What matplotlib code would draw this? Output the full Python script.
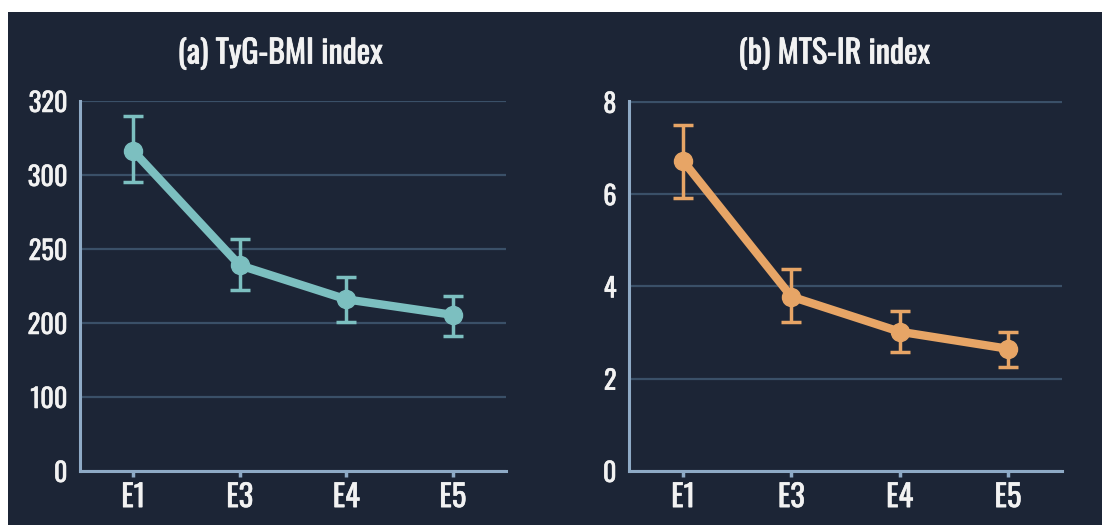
import numpy as np
import matplotlib
matplotlib.use("Agg")
import matplotlib.pyplot as plt
import matplotlib.patheffects as pe
from matplotlib.patches import Rectangle

plt.rcParams['font.family'] = ['Oswald', 'DejaVu Sans']

categories = ["E1", "E3", "E4", "E5"]

tyg_mean = [306.5, 239, 216, 205.5]
tyg_low = [295, 222, 200.5, 182]
tyg_high = [316, 257, 231, 218]
tyg_ticks = [0, 100, 200, 250, 300, 320]

mts_mean = [6.72, 3.78, 3.02, 2.65]
mts_low = [5.91, 3.24, 2.57, 2.26]
mts_high = [7.5, 4.37, 3.46, 3.02]
mts_ticks = [0, 2, 4, 6, 8]

BG = "#1c2536"
GRID = "#3a5068"
SPINE = "#8eaac6"
TEXT = "#f2f2f2"
TEAL = "#7cbfc0"
ORANGE = "#e7a566"

W, H = 1102, 525
fig = plt.figure(figsize=(W / 100, H / 100), dpi=100, facecolor="white")
fig.patches.append(Rectangle((8 / W, 0), 1 - 8 / W, (H - 12) / H,
                             transform=fig.transFigure, facecolor=BG,
                             edgecolor="none", zorder=-10))

bold = [pe.withStroke(linewidth=0.4, foreground=TEXT)]
bold_title = [pe.withStroke(linewidth=0.6, foreground=TEXT)]

tick_pos = np.arange(len(tyg_ticks))


def fwd(v):
    return np.interp(v, tyg_ticks, tick_pos)


def inv(v):
    return np.interp(v, tick_pos, tyg_ticks)


def make_ax(x0, x1, title, tx):
    ax = fig.add_axes([x0 / W, (H - 471) / H, (x1 - x0) / W, (471 - 101) / H])
    ax.set_facecolor("none")
    for s in ["top", "right"]:
        ax.spines[s].set_visible(False)
    for s in ["left", "bottom"]:
        ax.spines[s].set_color(SPINE)
        ax.spines[s].set_linewidth(2.2)
    ax.tick_params(axis="y", length=0, colors=TEXT, labelsize=19, pad=9)
    ax.tick_params(axis="x", length=4, width=2.5, color=SPINE, colors=TEXT,
                   labelsize=22, pad=4)
    ax.grid(axis="y", color=GRID, linewidth=1.6)
    ax.set_axisbelow(True)
    fig.text(tx / W, (H - 54) / H, title, color=TEXT, fontsize=23,
             ha="center", va="center", path_effects=bold_title)
    return ax


def draw(ax, mean, low, high, color):
    x = np.arange(len(categories))
    m = np.array(mean)
    err = [m - np.array(low), np.array(high) - m]
    ax.errorbar(x, m, yerr=err, fmt="none", ecolor=color, elinewidth=2.5,
                capsize=7, capthick=2.5, zorder=3)
    ax.plot(x, m, color=color, linewidth=6, marker="o", markersize=13,
            solid_capstyle="round", zorder=4)
    ax.set_xticks(x)
    ax.set_xticklabels(categories)
    ax.set_xlim(-0.5, len(categories) - 0.5)


ax1 = make_ax(80, 506, "(a) TyG-BMI index", 280)
ax1.set_yscale("function", functions=(fwd, inv))
draw(ax1, tyg_mean, tyg_low, tyg_high, TEAL)
ax1.set_ylim(0, 320.5)
ax1.set_yticks(tyg_ticks)
ax1.set_yticklabels([str(t) for t in tyg_ticks])
ax1.yaxis.set_minor_locator(matplotlib.ticker.NullLocator())

ax2 = make_ax(629, 1062, "(b) MTS-IR index", 834)
draw(ax2, mts_mean, mts_low, mts_high, ORANGE)
ax2.set_ylim(0, 8.02)
ax2.set_yticks(mts_ticks)
ax2.set_yticklabels([str(t) for t in mts_ticks])

for ax in (ax1, ax2):
    for lab in ax.get_xticklabels() + ax.get_yticklabels():
        lab.set_path_effects(bold)

fig.savefig("out.png", dpi=100, facecolor=fig.get_facecolor())
